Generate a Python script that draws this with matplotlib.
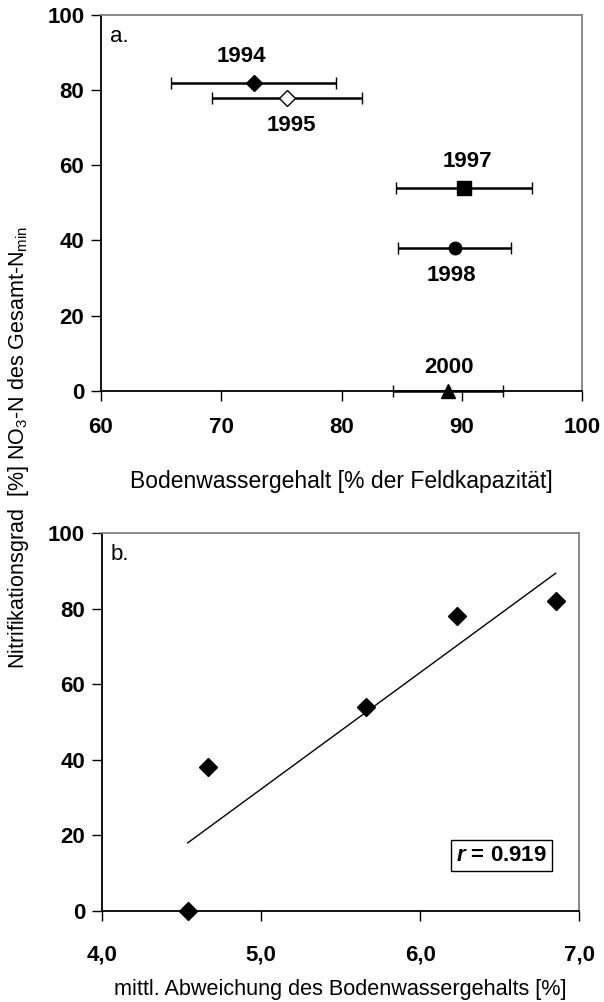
import matplotlib
matplotlib.use('Agg')
import matplotlib.pyplot as plt
import numpy as np

plt.rcParams['font.family'] = ['Liberation Sans', 'DejaVu Sans']
plt.rcParams['mathtext.fontset'] = 'custom'
plt.rcParams['mathtext.rm'] = 'Liberation Sans'
plt.rcParams['mathtext.it'] = 'Liberation Sans:italic:bold'

## data: year, soil water content (% field capacity), nitrification degree, mean deviation
years = ['1994', '1995', '1997', '1998', '2000']
wasser = [72.7, 75.5, 90.2, 89.4, 88.85]
nitri = [82, 78, 54, 38, 0]
abweichung = [6.85, 6.23, 5.66, 4.67, 4.54]

markers = ['D', 'D', 's', 'o', '^']
faces = ['black', 'white', 'black', 'black', 'black']
msizes = [8, 8, 10, 9, 10]
# label offsets in points (above / below the marker)
lab_off = [(-9, 19), (3, -20), (2, 19), (-2, -20), (1, 17)]

GRAY = '#808080'

fig = plt.figure(figsize=(6.04, 10.02), dpi=100)

def style_axes(ax, xpad):
    for s in ['top', 'right']:
        ax.spines[s].set_color(GRAY)
        ax.spines[s].set_linewidth(1.3)
    for s in ['left', 'bottom']:
        ax.spines[s].set_color('black')
        ax.spines[s].set_linewidth(1.3)
    ax.tick_params(direction='out', length=7, width=1, color='black')
    ax.set_yticks(range(0, 101, 20))
    ax.set_ylim(0, 100)
    for lab in ax.get_xticklabels() + ax.get_yticklabels():
        lab.set_fontsize(16)
        lab.set_fontweight('bold')
    ax.tick_params(axis='x', pad=xpad)
    ax.tick_params(axis='y', pad=5)

## a. soil water content vs nitrification
ax1 = fig.add_axes([0.1672, 0.610, 0.7964, 0.375])
for i in range(len(years)):
    ax1.errorbar(wasser[i], nitri[i], xerr=abweichung[i], fmt=markers[i],
                 mfc=faces[i], mec='black', mew=1, ms=msizes[i], color='black',
                 elinewidth=1.8, capsize=4.5, capthick=1.5, clip_on=False, zorder=3)
    ax1.annotate(years[i], (wasser[i], nitri[i]), xytext=lab_off[i],
                 textcoords='offset points', ha='center', va='center',
                 fontsize=16, fontweight='bold')
ax1.set_xlim(60, 100)
ax1.set_xticks(range(60, 101, 10))
style_axes(ax1, 12)
ax1.set_xlabel('Bodenwassergehalt [% der Feldkapazität]', fontsize=16.5, labelpad=23)
ax1.text(0.018, 0.97, 'a.', transform=ax1.transAxes, fontsize=16, va='top')

## b. mean deviation vs nitrification with regression line
ax2 = fig.add_axes([0.1684, 0.0911, 0.7910, 0.377])
ax2.plot(abweichung, nitri, 'D', color='black', ms=9, clip_on=False, zorder=3)
k, d = np.polyfit(abweichung, nitri, 1)
r = np.corrcoef(abweichung, nitri)[0, 1]
xl = np.array([min(abweichung), max(abweichung)])
ax2.plot(xl, k * xl + d, color='black', lw=1)
ax2.set_xlim(4, 7)
ax2.set_xticks([4, 5, 6, 7])
ax2.set_xticklabels(['4,0', '5,0', '6,0', '7,0'])
style_axes(ax2, 17)
ax2.set_xlabel('mittl. Abweichung des Bodenwassergehalts [%]', fontsize=15.6, labelpad=10)
ax2.text(0.018, 0.97, 'b.', transform=ax2.transAxes, fontsize=16, va='top')
ax2.text(6.51, 14.7, '$r$ = %.3f' % r, fontsize=16, fontweight='bold',
         ha='center', va='center',
         bbox=dict(boxstyle='square,pad=0.22', fc='white', ec='black', lw=1))

fig.text(0.03, 0.554, r'Nitrifikationsgrad  [%] NO$_3$-N des Gesamt-N$_{\mathrm{min}}$',
         rotation=90, ha='center', va='center', fontsize=15.5)

fig.savefig('out.png', dpi=100)
